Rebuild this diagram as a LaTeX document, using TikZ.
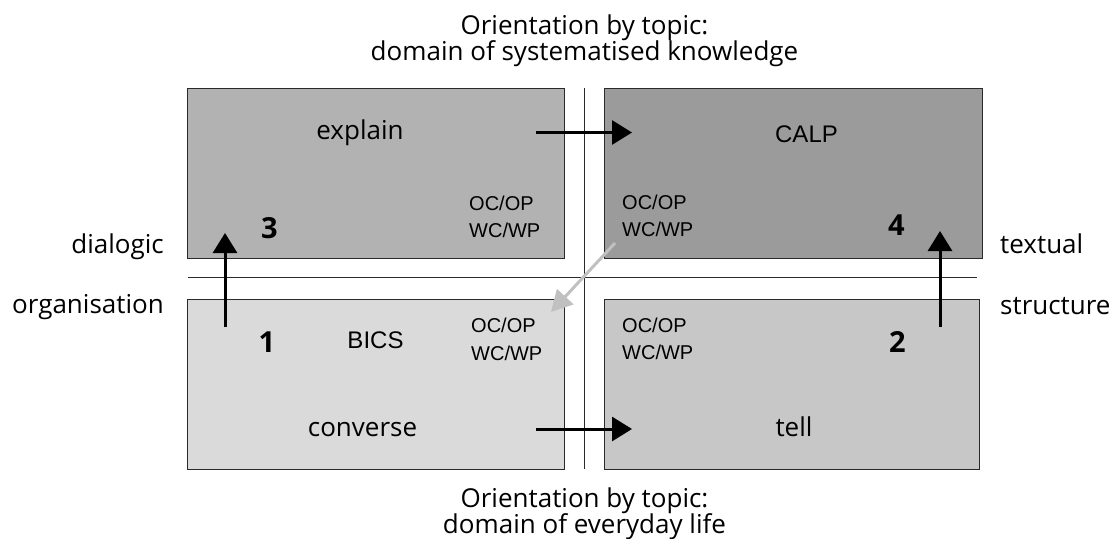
\documentclass[tikz,border=0pt]{standalone}
\usepackage{fontspec}
\setmainfont{Open Sans}
\newfontfamily\grotesk{Liberation Sans}
\usetikzlibrary{arrows.meta}
\definecolor{boxA}{HTML}{DADADB}
\definecolor{boxB}{HTML}{C7C7C8}
\definecolor{boxC}{HTML}{B2B2B3}
\definecolor{boxD}{HTML}{9B9B9C}
\definecolor{edge}{HTML}{2A2A2A}
\definecolor{moveGray}{HTML}{C0C0C0}
\tikzset{
  quad/.style={draw=edge, line width=0.9pt, inner sep=0pt},
  txt/.style={font=\fontsize{26}{30}\selectfont, inner sep=0pt, anchor=base},
  acr/.style={font=\grotesk\fontsize{24}{28}\selectfont, inner sep=0pt, anchor=base},
  mode/.style={font=\grotesk\fontsize{20}{24}\selectfont, inner sep=0pt, anchor=base west},
  num/.style={font=\fontsize{29}{32}\selectfont\bfseries, inner sep=0pt, anchor=base},
  move/.style={line width=3pt, -{Triangle[length=20pt,width=24pt]}},
  axis/.style={line width=0.9pt, edge}
}
\begin{document}
\begin{tikzpicture}[x=1pt,y=-1pt]
\useasboundingbox (0,0) rectangle (1115,538);
% quadrants
\path[quad, fill=boxC] (187,88) rectangle (564,258) node[midway] (q3) {};
\path[quad, fill=boxD] (604,88) rectangle (982,258) node[midway] (q4) {};
\path[quad, fill=boxA] (187,299) rectangle (564,469) node[midway] (q1) {};
\path[quad, fill=boxB] (604,299) rectangle (979,469) node[midway] (q2) {};
% axes
\coordinate (vt) at (584,88);
\coordinate (vb) at (584,469);
\coordinate (hl) at (188,277);
\coordinate (hr) at (977,277);
\draw[axis] (vt) -- (vb);
\draw[axis] (hl) -- (hr);
% axis headings
\node[txt] (top1) at (584.5,34) {Orientation by topic:};
\node[txt] (top2) at (584.5,60) {domain of systematised knowledge};
\node[txt] (bot1) at (584.5,507) {Orientation by topic:};
\node[txt] (bot2) at (584.5,533) {domain of everyday life};
\node[txt, anchor=base east] (dia) at (164,253) {dialogic};
\node[txt, anchor=base east] (org) at (164,313) {organisation};
\node[txt, anchor=base west] (tex) at (1000,253) {textual};
\node[txt, anchor=base west] (str) at (1000,314) {structure};
% quadrant labels
\node[txt] (explain) at (360,139) {explain};
\node[acr] (calp) at (806.5,142) {CALP};
\node[acr] (bics) at (375.5,348) {BICS};
\node[txt] (converse) at (362.5,436) {converse};
\node[txt] (tell) at (794,436) {tell};
\node[num] (n3) at (269.5,238) {3};
\node[num] (n4) at (896.5,235.5) {4};
\node[num] (n1) at (267,352) {1};
\node[num] (n2) at (897.5,352) {2};
\node[mode] (m3a) at (469,210.5) {OC/OP};
\node[mode] (m3b) at (469,237.5) {WC/WP};
\node[mode] (m4a) at (622,209) {OC/OP};
\node[mode] (m4b) at (622,236.5) {WC/WP};
\node[mode] (m1a) at (471,332.5) {OC/OP};
\node[mode] (m1b) at (471,360) {WC/WP};
\node[mode] (m2a) at (622,332) {OC/OP};
\node[mode] (m2b) at (622,359.5) {WC/WP};
% development arrows
\coordinate (e0) at (536,132.5);
\coordinate (e1) at (632,132.5);
\coordinate (c0) at (536,429);
\coordinate (c1) at (632,429);
\coordinate (u0) at (225,327);
\coordinate (u1) at (225,233);
\coordinate (w0) at (940,327);
\coordinate (w1) at (940,231);
\coordinate (g0) at (615,243);
\coordinate (g1) at (551,312);
\draw[move] (e0) -- (e1);
\draw[move] (c0) -- (c1);
\draw[move] (u0) -- (u1);
\draw[move] (w0) -- (w1);
\draw[line width=3pt, moveGray, -{Triangle[length=21pt,width=22pt]}] (g0) -- (g1);
\end{tikzpicture}
\end{document}
